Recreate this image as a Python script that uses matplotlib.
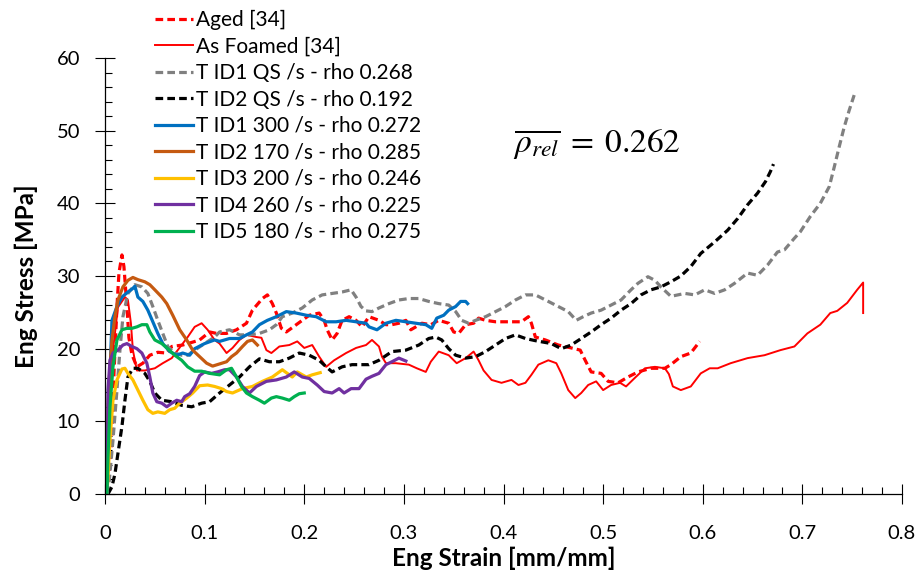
import matplotlib
matplotlib.use("Agg")
import matplotlib.pyplot as plt
from matplotlib import font_manager
from matplotlib.ticker import MultipleLocator, FuncFormatter

# -- DATA (strain [mm/mm], stress [MPa])
aged = [(0, 0), (0.004, 3), (0.007, 7.4), (0.009, 16.6), (0.012, 25.8), (0.014, 30.4),
        (0.017, 32.9), (0.019, 31.3), (0.022, 25.8), (0.024, 21.5), (0.027, 19.2),
        (0.032, 17.5), (0.038, 18.0), (0.045, 19.1), (0.053, 19.5), (0.062, 19.4),
        (0.067, 20.3), (0.078, 20.5), (0.088, 20.9), (0.095, 21.2), (0.105, 22.3),
        (0.112, 22.1), (0.122, 22.1), (0.132, 22.6), (0.142, 23.5), (0.148, 25.3),
        (0.158, 26.9), (0.163, 27.4), (0.168, 26.2), (0.172, 24.9), (0.177, 22.8),
        (0.182, 22.3), (0.192, 23.3), (0.205, 24.6), (0.215, 24.9), (0.22, 23.9),
        (0.223, 22.6), (0.228, 21.2), (0.233, 22.1), (0.238, 23.9), (0.245, 24.4),
        (0.252, 23.9), (0.258, 23.0), (0.265, 24.4), (0.275, 23.9), (0.282, 23.3),
        (0.288, 23.3), (0.295, 23.5), (0.302, 23.9), (0.307, 22.6), (0.312, 23.0),
        (0.318, 23.5), (0.327, 23.3), (0.335, 23.9), (0.345, 23.5), (0.35, 22.3),
        (0.355, 22.1), (0.362, 23.3), (0.37, 23.5), (0.375, 24.2), (0.382, 23.9),
        (0.392, 23.7), (0.402, 23.7), (0.413, 23.7), (0.418, 23.7), (0.425, 24.4),
        (0.428, 23.5), (0.432, 21.6), (0.442, 21.2), (0.455, 20.5), (0.468, 20.1),
        (0.477, 19.8), (0.482, 18.4), (0.488, 16.8), (0.498, 16.6), (0.505, 15.5),
        (0.515, 15.3), (0.525, 16.1), (0.535, 16.8), (0.548, 17.3), (0.562, 17.3),
        (0.568, 17.8), (0.578, 18.9), (0.588, 19.4), (0.597, 21.0)]

as_foamed = [(0, 0), (0.003, 6), (0.005, 12), (0.008, 19.8), (0.013, 25.7), (0.02, 27.1),
             (0.023, 26.7), (0.026, 23.5), (0.028, 19.8), (0.032, 17), (0.04, 17),
             (0.05, 17.3), (0.058, 18), (0.067, 18.7), (0.073, 19.8), (0.083, 21.6),
             (0.09, 23), (0.097, 23.5), (0.103, 22.6), (0.11, 21.2), (0.115, 20.7),
             (0.122, 19.4), (0.128, 20.1), (0.135, 21.2), (0.142, 21.9), (0.152, 21.6),
             (0.157, 21.5), (0.162, 19.8), (0.167, 19.4), (0.175, 20.3), (0.185, 20.5),
             (0.193, 21), (0.2, 20.1), (0.208, 20.5), (0.215, 18.9), (0.222, 17.5),
             (0.23, 18.4), (0.242, 19.4), (0.252, 20.1), (0.262, 20.5), (0.268, 21.2),
             (0.275, 20.3), (0.278, 18.9), (0.282, 18), (0.292, 18), (0.305, 17.8),
             (0.313, 17.3), (0.322, 16.8), (0.327, 18.2), (0.335, 19.6), (0.345, 19.1),
             (0.353, 18), (0.362, 18.7), (0.37, 19.6), (0.375, 18.4), (0.38, 17),
             (0.388, 15.7), (0.398, 15.3), (0.408, 15.7), (0.415, 15), (0.422, 15.3),
             (0.428, 16.4), (0.435, 17.8), (0.445, 18.4), (0.453, 18), (0.458, 16.6),
             (0.465, 14.3), (0.472, 13.2), (0.478, 13.9), (0.485, 15), (0.493, 15.5),
             (0.5, 14.3), (0.508, 15), (0.517, 15.3), (0.523, 14.8), (0.532, 16),
             (0.542, 17.3), (0.552, 17.5), (0.562, 17.3), (0.566, 16.5), (0.57, 14.8),
             (0.578, 14.3), (0.588, 14.8), (0.598, 16.6), (0.607, 17.3), (0.615, 17.3),
             (0.628, 18), (0.645, 18.7), (0.662, 19.1), (0.678, 19.8), (0.692, 20.3),
             (0.705, 22.1), (0.718, 23.3), (0.728, 24.9), (0.735, 25.2), (0.745, 26.3),
             (0.755, 28.1), (0.761, 29.1), (0.761, 24.9)]

id1_qs = [(0.003, 0), (0.005, 2.9), (0.008, 7.4), (0.012, 14.3), (0.015, 19.8), (0.018, 24.4),
          (0.023, 27.6), (0.03, 28.8), (0.037, 28.5), (0.043, 27.6), (0.048, 25.8),
          (0.053, 23.9), (0.058, 22.1), (0.063, 20.3), (0.07, 19.4), (0.077, 19.1),
          (0.083, 19.1), (0.09, 19.8), (0.1, 20.7), (0.11, 21.6), (0.115, 22.3),
          (0.125, 22.6), (0.135, 21.9), (0.145, 21.9), (0.155, 22.1), (0.165, 22.6),
          (0.172, 23.3), (0.178, 24.4), (0.188, 24.9), (0.198, 25.6), (0.208, 26.7),
          (0.218, 27.4), (0.228, 27.6), (0.238, 27.8), (0.247, 28.1), (0.252, 27.1),
          (0.257, 25.8), (0.262, 25.2), (0.268, 25.1), (0.275, 25.6), (0.285, 26.2),
          (0.295, 26.7), (0.305, 26.9), (0.315, 26.9), (0.325, 26.5), (0.335, 26.2),
          (0.345, 26), (0.352, 25.1), (0.358, 23.9), (0.365, 23.5), (0.372, 23.9),
          (0.382, 24.4), (0.392, 25.1), (0.402, 25.8), (0.412, 26.7), (0.422, 27.4),
          (0.432, 27.4), (0.445, 26.5), (0.455, 25.8), (0.465, 25.1), (0.473, 23.9),
          (0.48, 24.4), (0.488, 24.9), (0.498, 25.3), (0.508, 26), (0.518, 26.7),
          (0.528, 28.1), (0.535, 29), (0.545, 29.9), (0.552, 29.4), (0.558, 28.5),
          (0.568, 27.2), (0.582, 27.6), (0.592, 27.4), (0.602, 28.1), (0.612, 27.6),
          (0.622, 28.1), (0.632, 29), (0.645, 30.4), (0.655, 30.1), (0.665, 31.5),
          (0.675, 33.3), (0.682, 33.6), (0.692, 35.2), (0.698, 36.1), (0.708, 38.2),
          (0.718, 40), (0.727, 42.3), (0.732, 45), (0.737, 47.8), (0.742, 50.5),
          (0.747, 52.8), (0.752, 54.9)]

id2_qs = [(0.003, 0), (0.007, 1), (0.01, 2.8), (0.013, 5.6), (0.017, 9.3), (0.02, 12.9),
          (0.023, 16.1), (0.028, 17.3), (0.033, 17.3), (0.04, 16.6), (0.045, 15.5),
          (0.05, 13.9), (0.057, 12.9), (0.067, 12.7), (0.077, 12.2), (0.087, 12),
          (0.097, 12.5), (0.105, 12.7), (0.115, 13.9), (0.125, 15), (0.135, 16.1),
          (0.145, 17.5), (0.155, 18.6), (0.165, 18.2), (0.175, 18.2), (0.185, 18.7),
          (0.195, 19.4), (0.205, 19.1), (0.215, 18.4), (0.222, 17.5), (0.228, 16.8),
          (0.238, 17.5), (0.248, 17.8), (0.258, 17.8), (0.265, 17.8), (0.275, 18.4),
          (0.288, 19.6), (0.302, 19.8), (0.315, 20.5), (0.325, 21.4), (0.332, 21.6),
          (0.338, 21.2), (0.345, 20), (0.352, 19.1), (0.362, 18.7), (0.372, 18.9),
          (0.382, 19.6), (0.392, 20.5), (0.402, 21.4), (0.412, 21.9), (0.422, 21.4),
          (0.432, 21.1), (0.448, 20.7), (0.458, 20), (0.468, 20.5), (0.478, 21.4),
          (0.488, 22.3), (0.498, 23.3), (0.508, 24.2), (0.518, 25.3), (0.528, 26.2),
          (0.538, 27.4), (0.548, 28.1), (0.558, 28.5), (0.568, 29.2), (0.578, 30),
          (0.588, 31.3), (0.598, 33.1), (0.612, 34.7), (0.625, 36.3), (0.635, 37.9),
          (0.645, 39.8), (0.655, 41.4), (0.663, 43), (0.668, 44.4), (0.671, 45.4)]

id1_300 = [(0.002, 0), (0.004, 10), (0.005, 16.6), (0.007, 23.9), (0.012, 25.8), (0.017, 27.1),
           (0.023, 27.8), (0.028, 28.3), (0.03, 28.6), (0.033, 27.1), (0.038, 26.5),
           (0.043, 25.3), (0.048, 23.7), (0.053, 22.1), (0.058, 20.7), (0.065, 19.6),
           (0.072, 19.1), (0.078, 19.4), (0.085, 19.1), (0.09, 20), (0.1, 20.7),
           (0.11, 21.2), (0.115, 21), (0.125, 21.4), (0.135, 21.4), (0.142, 21.9),
           (0.148, 22.3), (0.155, 23.3), (0.163, 23.9), (0.172, 24.4), (0.182, 25.1),
           (0.192, 24.9), (0.202, 24.6), (0.212, 24.4), (0.222, 23.7), (0.232, 23.7),
           (0.242, 23.9), (0.252, 23.7), (0.262, 23.5), (0.265, 23), (0.273, 22.6),
           (0.282, 23.5), (0.292, 23.9), (0.302, 23.7), (0.312, 23.5), (0.322, 23.3),
           (0.328, 22.8), (0.333, 24.2), (0.34, 24.6), (0.345, 25.3), (0.352, 25.8),
           (0.357, 26.5), (0.362, 26.5), (0.364, 26.2)]

id2_170 = [(0.002, 0), (0.003, 12), (0.005, 17.5), (0.007, 21.2), (0.01, 24.4), (0.013, 26.7),
           (0.018, 28.5), (0.023, 29.4), (0.028, 29.8), (0.033, 29.5), (0.04, 29.2),
           (0.045, 28.8), (0.05, 28.1), (0.057, 27.1), (0.062, 26.2), (0.068, 24.6),
           (0.075, 22.6), (0.082, 21.2), (0.088, 19.8), (0.095, 18.9), (0.102, 18),
           (0.108, 17.6), (0.115, 17.9), (0.122, 18.2), (0.127, 18.9), (0.132, 19.4),
           (0.138, 20.3), (0.143, 21), (0.148, 21.2), (0.153, 20.5)]

id3_200 = [(0.002, 0), (0.005, 7.4), (0.008, 12.9), (0.012, 15.7), (0.017, 17.2), (0.02, 17.3),
           (0.023, 16.6), (0.028, 15.7), (0.033, 14.3), (0.038, 12.9), (0.043, 11.6),
           (0.048, 11.1), (0.053, 11.3), (0.06, 11.1), (0.065, 11.6), (0.07, 11.8),
           (0.075, 12.5), (0.082, 13.2), (0.088, 13.9), (0.095, 14.9), (0.103, 15),
           (0.11, 14.8), (0.117, 14.5), (0.122, 14.1), (0.128, 13.9), (0.138, 14.5),
           (0.148, 14.8), (0.158, 15.5), (0.168, 16.1), (0.178, 17.1), (0.183, 16.6),
           (0.188, 16.1), (0.193, 16.8), (0.202, 16.1), (0.208, 16.4), (0.216, 16.7)]

id4_260 = [(0.002, 0), (0.003, 14.3), (0.005, 18.4), (0.008, 19.4), (0.013, 19.8), (0.018, 20.5),
           (0.022, 20.7), (0.027, 20.3), (0.032, 20), (0.037, 19.4), (0.042, 18),
           (0.045, 16.1), (0.048, 13.9), (0.052, 12.7), (0.057, 12.5), (0.062, 12),
           (0.067, 12.5), (0.072, 12.9), (0.077, 12.7), (0.08, 13.4), (0.085, 13.8),
           (0.09, 14.8), (0.095, 16.3), (0.1, 16.8), (0.107, 16.6), (0.113, 16.8),
           (0.12, 17.1), (0.125, 17.1), (0.132, 16.1), (0.138, 14.8), (0.145, 13.9),
           (0.152, 14.8), (0.162, 15.5), (0.172, 15.7), (0.182, 16.1), (0.19, 16.8),
           (0.198, 16.1), (0.205, 15.9), (0.213, 15), (0.22, 14.1), (0.228, 13.9),
           (0.235, 14.5), (0.24, 13.9), (0.247, 14.5), (0.255, 14.5), (0.262, 15.8),
           (0.268, 16.2), (0.275, 16.6), (0.282, 17.8), (0.288, 18.2), (0.295, 18.7),
           (0.302, 18.3)]

id5_180 = [(0.002, 0), (0.003, 5.1), (0.005, 12), (0.008, 17.5), (0.012, 21.2), (0.017, 22.6),
           (0.022, 22.8), (0.027, 22.8), (0.032, 23), (0.037, 23.3), (0.042, 23.3),
           (0.045, 22.3), (0.05, 21.2), (0.057, 20.7), (0.063, 20), (0.07, 19.1),
           (0.077, 18.4), (0.083, 17.5), (0.09, 16.9), (0.097, 16.9), (0.105, 16.6),
           (0.115, 16.4), (0.122, 17.1), (0.127, 17.3), (0.132, 16.1), (0.137, 14.8),
           (0.142, 13.9), (0.148, 13.4), (0.155, 12.9), (0.16, 12.5), (0.167, 13.2),
           (0.172, 13.4), (0.178, 13.2), (0.185, 12.9), (0.19, 13.4), (0.195, 13.8),
           (0.2, 13.9)]

labels = ["Aged [34]", "As Foamed [34]", "T ID1 QS /s - rho 0.268", "T ID2 QS /s - rho 0.192",
          "T ID1 300 /s - rho 0.272", "T ID2 170 /s - rho 0.285", "T ID3 200 /s - rho 0.246",
          "T ID4 260 /s - rho 0.225", "T ID5 180 /s - rho 0.275"]
rho_mean = 0.262

# -- STYLE
series = [aged, as_foamed, id1_qs, id2_qs, id1_300, id2_170, id3_200, id4_260, id5_180]
colors = ["#FF0000", "#FF0000", "#808080", "#000000", "#0070C0", "#C55A11", "#FFC000",
          "#7030A0", "#00B050"]
dashed = [True, False, True, True, False, False, False, False, False]
widths = [2.3, 1.4, 2.3, 2.3, 2.3, 2.3, 2.3, 2.3, 2.3]

plt.rcParams["font.family"] = ["Lato", "DejaVu Sans"]
plt.rcParams["mathtext.fontset"] = "stix"

# narrow digits for the tick labels (Calibri-like width), Lato if not there
installed = {f.name for f in font_manager.fontManager.ttflist}
narrow = "Liberation Sans Narrow" in installed
tick_family = "Liberation Sans Narrow" if narrow else "Lato"
tick_size = 17 if narrow else 14.5

fig = plt.figure(figsize=(9.17, 5.78), dpi=100)
# right edge pulled in a little so the "0.8" label stays inside the canvas
ax = fig.add_axes([105 / 917, 84 / 578, 797 / 917, 436 / 578])

for pts, lab, col, dsh, lw in zip(series, labels, colors, dashed, widths):
    xs = [p[0] for p in pts]
    ys = [p[1] for p in pts]
    line, = ax.plot(xs, ys, color=col, lw=lw, label=lab, solid_joinstyle="round")
    if dsh:
        line.set_dashes((2.4, 1.3))

ax.set_xlim(0, 0.8)
ax.set_ylim(0, 60)
ax.xaxis.set_major_locator(MultipleLocator(0.1))
ax.xaxis.set_minor_locator(MultipleLocator(0.02))
ax.yaxis.set_major_locator(MultipleLocator(10))
ax.yaxis.set_minor_locator(MultipleLocator(2))
ax.xaxis.set_major_formatter(FuncFormatter(lambda v, _: "0" if abs(v) < 1e-9 else f"{v:.1f}"))

for side in ["top", "right"]:
    ax.spines[side].set_visible(False)
for side in ["left", "bottom"]:
    ax.spines[side].set_color("#000000")
    ax.spines[side].set_linewidth(0.9)

ax.tick_params(which="major", direction="inout", length=14, width=0.8, color="#000000")
ax.tick_params(which="minor", direction="in", length=5, width=0.8, color="#000000")
ax.tick_params(axis="x", which="major", pad=15)
ax.tick_params(axis="y", which="major", pad=11)
for lab in ax.get_xticklabels() + ax.get_yticklabels():
    lab.set_fontfamily(tick_family)
    lab.set_fontsize(tick_size)

ax.set_xlabel("Eng Strain [mm/mm]", fontsize=17.5, fontweight="bold", labelpad=4)
ax.set_ylabel("Eng Stress [MPa]", fontsize=17.5, fontweight="bold", labelpad=13)

ax.text(0.41, 47.0, r"$\overline{\rho_{rel}}\;=\;0.262$", fontsize=24, va="baseline", ha="left")

leg = fig.legend(loc="upper left", bbox_to_anchor=(155 / 917, 1 - 10 / 578), frameon=False,
                 fontsize=15, handlelength=1.8, handletextpad=0.15, labelspacing=0.31,
                 borderpad=0, borderaxespad=0)

fig.savefig("out.png", dpi=100)
